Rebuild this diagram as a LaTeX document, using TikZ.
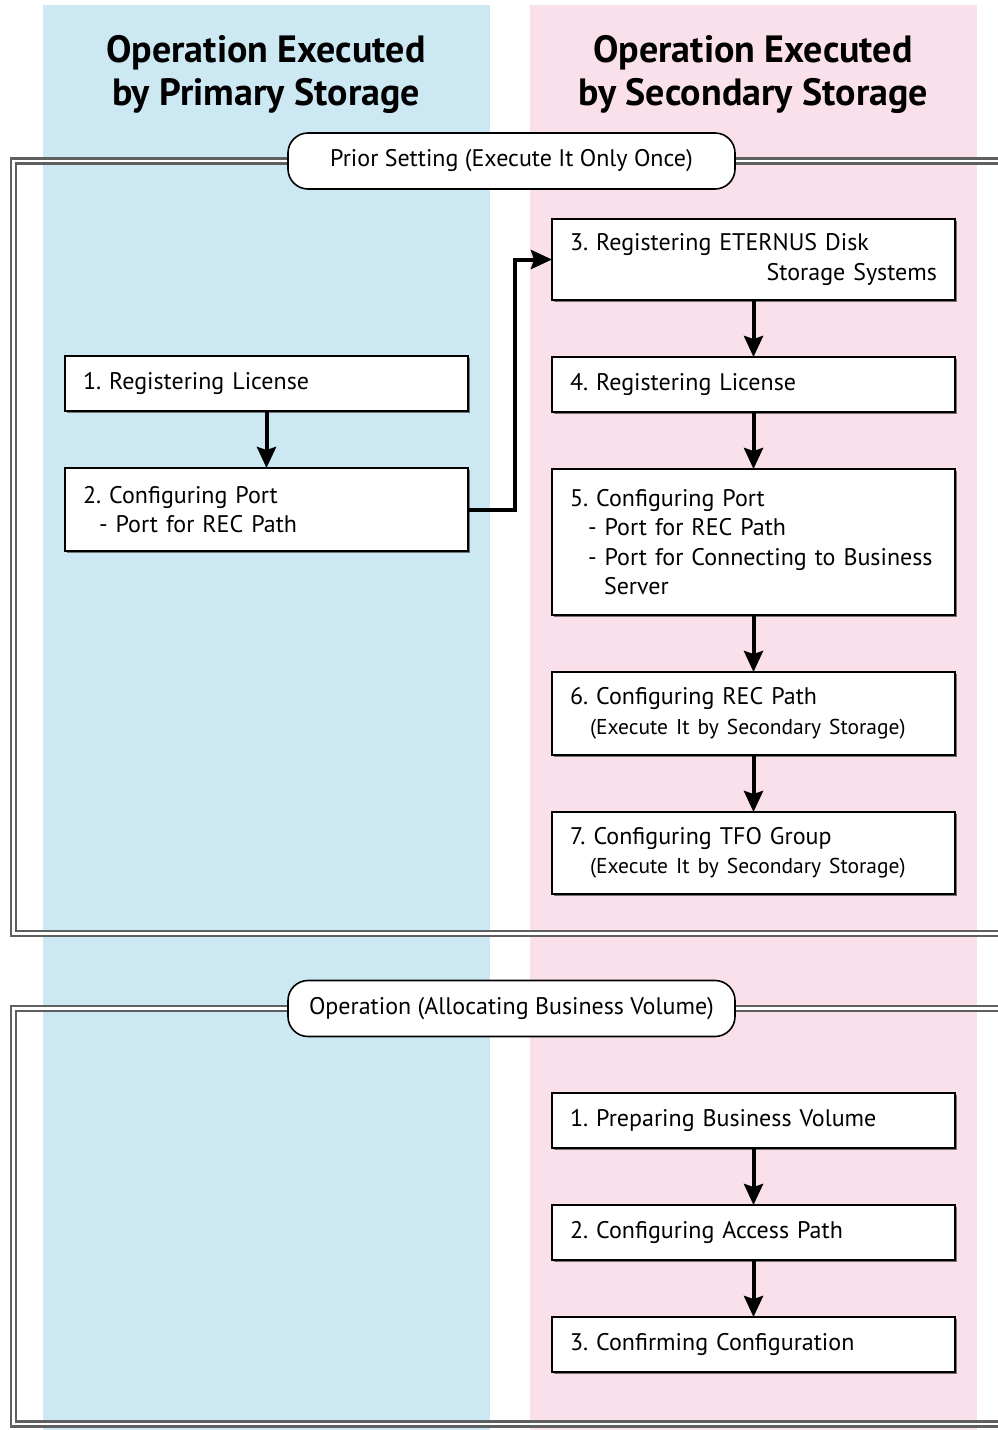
\documentclass[tikz,border=0pt]{standalone}
\usepackage{fontspec}
\setmainfont{PT Sans}
\usetikzlibrary{positioning, arrows.meta, shadows}

\definecolor{primaryband}{RGB}{203,232,243}
\definecolor{secondaryband}{RGB}{250,224,234}
\definecolor{framegray}{RGB}{95,95,95}

\frenchspacing

\begin{document}
\begin{tikzpicture}[x=1pt, y=-1pt,
    stepbox/.style={draw, line width=1.6pt, outer sep=0pt, fill=white, text width=367pt, inner xsep=18pt, inner ysep=3pt, align=left, minimum height=55pt, font=\fontsize{24}{29.5}\selectfont, drop shadow={shadow xshift=1.5pt, shadow yshift=-1.5pt, fill=black!55, opacity=1}},
    phase/.style={draw, line width=1.6pt, fill=white, rounded corners=20pt, minimum width=447pt, minimum height=56pt, font=\fontsize{24}{28}\selectfont},
    heading/.style={align=center, font=\bfseries\fontsize{38}{43}\selectfont},
    frameline/.style={draw=framegray, line width=2.4pt, double=white, double distance=2.4pt},
    flow/.style={line width=4pt, -{Stealth[length=21pt, width=19pt, inset=3pt]}},
    node distance=57pt]
  \useasboundingbox (0,0) rectangle (997,1430);

  % columns
  \fill[primaryband] (43,5) rectangle (490,1430);
  \fill[secondaryband] (530,5) rectangle (977,1430);

  \node[heading] (hprimary) at (266,74) {Operation Executed\\by Primary Storage};
  \node[heading] (hsecondary) at (753,74) {Operation Executed\\by Secondary Storage};

  % prior setting
  \node[phase] (prior) at (511.5,161) {Prior Setting (Execute It Only Once)};
  \coordinate (f1nw) at (13.5,161);
  \coordinate (f1sw) at (13.5,933.5);
  \coordinate (f1se) at (1003,933.5);
  \coordinate (f1ne) at (1003,161);
  \draw[frameline] (prior.west) -- (f1nw) -- (f1sw) -- (f1se);
  \draw[frameline] (prior.east) -- (f1ne);

  \node[stepbox, anchor=north west] (l1) at (65,356) {1. Registering License};
  \node[stepbox, below=of l1, minimum height=83pt] (l2) {2. Configuring Port\\\hspace*{16pt}- Port for REC Path};

  \node[stepbox, anchor=north west, minimum height=81pt] (s3) at (552,219) {3. Registering ETERNUS Disk\\\hfill Storage Systems};
  \node[stepbox, below=of s3] (s4) {4. Registering License};
  \node[stepbox, below=of s4, minimum height=146pt] (s5) {5. Configuring Port\\\hspace*{18pt}- Port for REC Path\\\hspace*{18pt}- Port for Connecting to Business\\\hspace*{34pt}Server};
  \node[stepbox, below=of s5, minimum height=83pt] (s6) {6. Configuring REC Path\\\hspace*{20pt}{\fontsize{21.5}{29.5}\selectfont(Execute It by Secondary Storage)}};
  \node[stepbox, below=of s6, minimum height=82pt] (s7) {7. Configuring TFO Group\\\hspace*{20pt}{\fontsize{21.5}{29.5}\selectfont(Execute It by Secondary Storage)}};

  \draw[flow] (l1) -- (l2);
  \draw[flow] (l2.east) -- ++(47,0) |- (s3.west);
  \draw[flow] (s3) -- (s4);
  \draw[flow] (s4) -- (s5);
  \draw[flow] (s5) -- (s6);
  \draw[flow] (s6) -- (s7);

  % operation
  \node[phase] (operation) at (511.5,1008.5) {Operation (Allocating Business Volume)};
  \coordinate (f2nw) at (13.5,1008.5);
  \coordinate (f2sw) at (13.5,1424);
  \coordinate (f2se) at (1003,1424);
  \coordinate (f2ne) at (1003,1008.5);
  \draw[frameline] (operation.west) -- (f2nw) -- (f2sw) -- (f2se);
  \draw[frameline] (operation.east) -- (f2ne);

  \node[stepbox, anchor=north west] (o1) at (552,1093) {1. Preparing Business Volume};
  \node[stepbox, below=of o1] (o2) {2. Configuring Access Path};
  \node[stepbox, below=of o2] (o3) {3. Confirming Configuration};

  \draw[flow] (o1) -- (o2);
  \draw[flow] (o2) -- (o3);
\end{tikzpicture}
\end{document}
